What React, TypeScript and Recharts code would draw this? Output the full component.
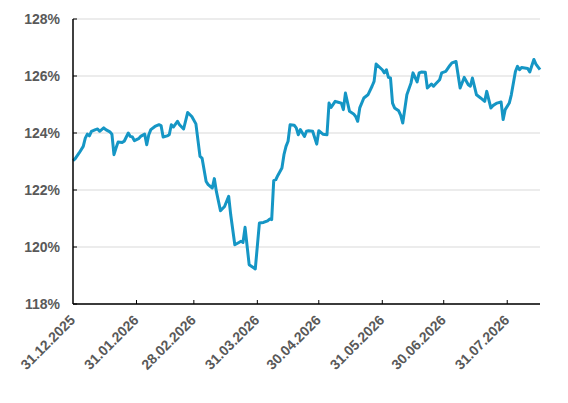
import React from "react";
import { LineChart, Line, XAxis, YAxis, CartesianGrid } from "recharts";

// Days elapsed since 31.12.2025 for each observation
const dayOffsets = [
  0, 1, 3, 5, 6, 7, 8, 9, 11, 12, 13, 15, 16, 18, 19, 20, 21, 22, 24, 25,
  27, 28, 29, 30, 32, 33, 35, 36, 37, 38, 40, 42, 43, 44, 46, 47, 48, 49, 51, 52,
  54, 56, 58, 60, 62, 63, 65, 66, 68, 69, 70, 72, 74, 76, 77, 79, 81, 82, 83, 84,
  86, 88, 89, 91, 93, 95, 96, 97, 98, 99, 100, 102, 103, 104, 105, 106, 108, 109, 110, 111,
  113, 114, 115, 117, 119, 120, 122, 124, 125, 126, 128, 129, 131, 132, 133, 135, 137, 138, 139, 140,
  142, 144, 146, 147, 148, 151, 152, 153, 154, 155, 156, 157, 159, 160, 161, 163, 165, 166, 168, 169,
  170, 172, 173, 175, 176, 177, 179, 180, 182, 184, 185, 187, 189, 191, 193, 194, 195, 197, 199, 201,
  202, 204, 205, 207, 209, 210, 211, 213, 214, 216, 217, 218, 219, 222, 223, 225, 226, 228,
];

// Performance in percent
const values = [
  123.03, 123.09, 123.3, 123.53, 123.82, 123.96, 123.9, 124.06, 124.12, 124.14, 124.06, 124.18, 124.12, 124.04, 123.96, 123.24, 123.47, 123.68, 123.67, 123.71,
  124.0, 123.88, 123.86, 123.73, 123.8, 123.88, 123.96, 123.59, 123.94, 124.12, 124.23, 124.29, 124.26, 123.86, 123.9, 123.94, 124.29, 124.21, 124.41, 124.29,
  124.14, 124.72, 124.58, 124.32, 123.18, 123.12, 122.3, 122.19, 122.07, 122.4, 121.95, 121.27, 121.42, 121.78, 121.13, 120.08, 120.16, 120.2, 120.16, 120.69,
  119.38, 119.28, 119.23, 120.84, 120.86, 120.92, 120.98, 120.96, 122.33, 122.36, 122.51, 122.77, 123.24, 123.53, 123.71, 124.29, 124.27, 124.18, 123.94, 124.12,
  123.88, 124.06, 124.08, 124.06, 123.61, 124.08, 123.96, 123.94, 125.05, 124.9, 125.11, 125.09, 125.05, 124.82, 125.4, 124.76, 124.67, 124.58, 124.41, 124.88,
  125.23, 125.34, 125.64, 125.81, 126.42, 126.22, 126.11, 126.22, 125.95, 125.93, 125.05, 124.88, 124.78, 124.62, 124.35, 125.34, 125.75, 126.11, 125.79, 126.11,
  126.14, 126.13, 125.58, 125.72, 125.64, 125.72, 125.87, 126.11, 126.16, 126.37, 126.46, 126.51, 125.58, 125.95, 125.69, 125.64, 125.93, 125.34, 125.23, 125.11,
  125.46, 124.88, 124.96, 125.05, 125.09, 124.47, 124.82, 125.05, 125.34, 126.16, 126.34, 126.22, 126.3, 126.26, 126.14, 126.58, 126.42, 126.22,
];

const tickDays = [0, 31, 59, 90, 120, 151, 181, 212];
const tickLabels = [
  "31.12.2025",
  "31.01.2026",
  "28.02.2026",
  "31.03.2026",
  "30.04.2026",
  "31.05.2026",
  "30.06.2026",
  "31.07.2026",
];
const yTicks = [118, 120, 122, 124, 126, 128];

const data = dayOffsets.map((d, i) => ({ day: d, value: values[i] }));

const FONT = "'Liberation Sans', Arial, sans-serif";
const TEXT_COLOR = "#595959";

const YTick = (props: any) => {
  const { x, y, payload } = props;
  return (
    <g>
      <line x1={x} y1={y} x2={x + 4} y2={y} stroke="#000" strokeWidth={1} />
      <text
        x={x - 13}
        y={y}
        dy="0.36em"
        textAnchor="end"
        fill={TEXT_COLOR}
        fontFamily={FONT}
        fontSize={14}
        fontWeight="bold"
      >
        {`${payload.value}%`}
      </text>
    </g>
  );
};

const XTick = (props: any) => {
  const { x, y, payload } = props;
  const idx = tickDays.indexOf(payload.value);
  const label = idx >= 0 ? tickLabels[idx] : "";
  const ax = x + 3;
  const ay = y + 17;
  return (
    <g>
      {payload.value !== 0 && (
        <line x1={x} y1={y} x2={x} y2={y - 4} stroke="#000" strokeWidth={1} />
      )}
      <text
        x={ax}
        y={ay}
        textAnchor="end"
        transform={`rotate(-45, ${ax}, ${ay})`}
        fill={TEXT_COLOR}
        fontFamily={FONT}
        fontSize={14}
        fontWeight="bold"
      >
        {label}
      </text>
    </g>
  );
};

export default function App() {
  return (
    <div style={{ width: 552, height: 387 }}>
      <LineChart
        width={552}
        height={387}
        data={data}
        margin={{ top: 11, right: 20, bottom: 6, left: 0 }}
      >
        <CartesianGrid horizontal={true} vertical={false} stroke="#d9d9d9" strokeWidth={1} />
        <XAxis
          dataKey="day"
          type="number"
          domain={[0, 228]}
          ticks={tickDays}
          tick={<XTick />}
          tickSize={0}
          tickMargin={0}
          tickLine={false}
          height={85}
          axisLine={{ stroke: "#000", strokeWidth: 1.5 }}
          interval={0}
        />
        <YAxis
          type="number"
          domain={[118, 128]}
          ticks={yTicks}
          tick={<YTick />}
          tickSize={0}
          tickMargin={0}
          tickLine={false}
          width={65}
          axisLine={{ stroke: "#000", strokeWidth: 1.5 }}
          interval={0}
        />
        <Line
          type="linear"
          dataKey="value"
          stroke="#1596C5"
          strokeWidth={3}
          dot={false}
          isAnimationActive={false}
          strokeLinejoin="round"
        />
      </LineChart>
    </div>
  );
}
